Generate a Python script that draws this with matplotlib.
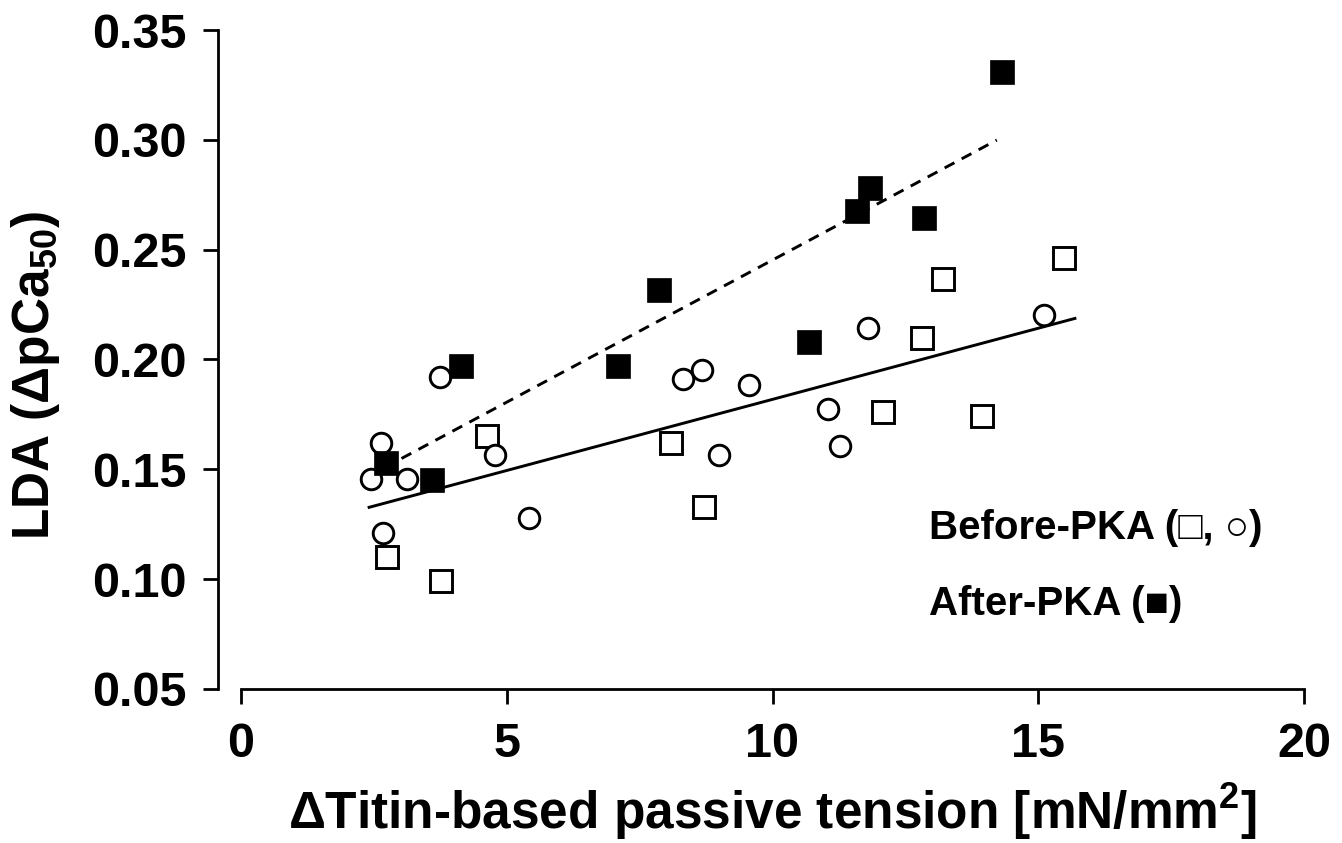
import matplotlib
matplotlib.use("Agg")
import matplotlib.pyplot as plt

# before PKA - open squares
sq_x = [2.74, 3.76, 4.62, 8.09, 8.72, 12.07, 12.81, 13.21, 13.95, 15.49]
sq_y = [0.110, 0.099, 0.165, 0.162, 0.133, 0.176, 0.210, 0.2365, 0.1744, 0.246]

# before PKA - open circles
ci_x = [2.45, 2.63, 2.68, 3.12, 3.74, 4.78, 5.41, 8.31, 8.67, 9.00, 9.56, 11.05, 11.27, 11.79, 15.10]
ci_y = [0.1454, 0.1621, 0.1209, 0.1454, 0.1922, 0.1565, 0.1277, 0.191, 0.1952, 0.1565, 0.1884,
        0.1773, 0.1606, 0.2145, 0.2202]

# after PKA - filled squares
af_x = [2.73, 3.59, 4.14, 7.09, 7.86, 10.69, 11.59, 11.83, 12.85, 14.32]
af_y = [0.153, 0.145, 0.197, 0.197, 0.2316, 0.208, 0.2676, 0.278, 0.2644, 0.3308]

# regression lines (end points)
fit_before_x = [2.41, 15.69]
fit_before_y = [0.1327, 0.2187]
fit_after_x = [2.70, 14.22]
fit_after_y = [0.1508, 0.2999]

xticks = [0, 5, 10, 15, 20]
yticks = [0.05, 0.10, 0.15, 0.20, 0.25, 0.30, 0.35]

plt.rcParams['font.family'] = ['Liberation Sans', 'DejaVu Sans']
plt.rcParams['font.weight'] = 'bold'
plt.rcParams['mathtext.fontset'] = 'custom'
plt.rcParams['mathtext.rm'] = 'Liberation Sans:bold'
plt.rcParams['mathtext.it'] = 'Liberation Sans:bold'
plt.rcParams['mathtext.bf'] = 'Liberation Sans:bold'

fig = plt.figure(figsize=(13.42, 8.43), dpi=100)
ax = fig.add_axes([241 / 1342, 1 - 689 / 843, 1063 / 1342, 659 / 843])

ax.plot(fit_before_x, fit_before_y, color='black', lw=2.1, zorder=2)
ax.plot(fit_after_x, fit_after_y, color='black', lw=2.1, linestyle=(0, (3.8, 2.8)), zorder=2)

ax.plot(sq_x, sq_y, 's', ms=15.5, mfc='white', mec='black', mew=2.1, zorder=3)
ax.plot(ci_x, ci_y, 'o', ms=14.8, mfc='white', mec='black', mew=2.1, zorder=3)
ax.plot(af_x, af_y, 's', ms=17.8, mfc='black', mec='black', mew=0.5, zorder=4)

ax.set_xlim(0, 20)
ax.set_ylim(0.05, 0.35)
ax.set_xticks(xticks)
ax.set_xticklabels([str(v) for v in xticks])
ax.set_yticks(yticks)
ax.set_yticklabels(['%.2f' % v for v in yticks])

for s in ['top', 'right']:
    ax.spines[s].set_visible(False)
ax.spines['left'].set_position(('outward', 16.5))
ax.spines['left'].set_linewidth(2.0)
ax.spines['bottom'].set_linewidth(2.0)
ax.tick_params(axis='both', direction='out', length=11, width=2.0, labelsize=35)
ax.tick_params(axis='x', pad=13)
ax.tick_params(axis='y', pad=12)

ax.set_xlabel('ΔTitin-based passive tension [mN/mm$^{2}$]', fontsize=37, fontweight='bold', labelpad=10)
ax.set_ylabel('LDA (ΔpCa$_{50}$)', fontsize=37, fontweight='bold')
ax.yaxis.set_label_coords(-0.168, 0.476)

ax.text(0.647, 0.244, 'Before-PKA (□, ○)', transform=ax.transAxes, fontsize=29,
        fontweight='bold', ha='left', va='center')
ax.text(0.647, 0.129, 'After-PKA (■)', transform=ax.transAxes, fontsize=29,
        fontweight='bold', ha='left', va='center')

fig.savefig('out.png', dpi=100)
